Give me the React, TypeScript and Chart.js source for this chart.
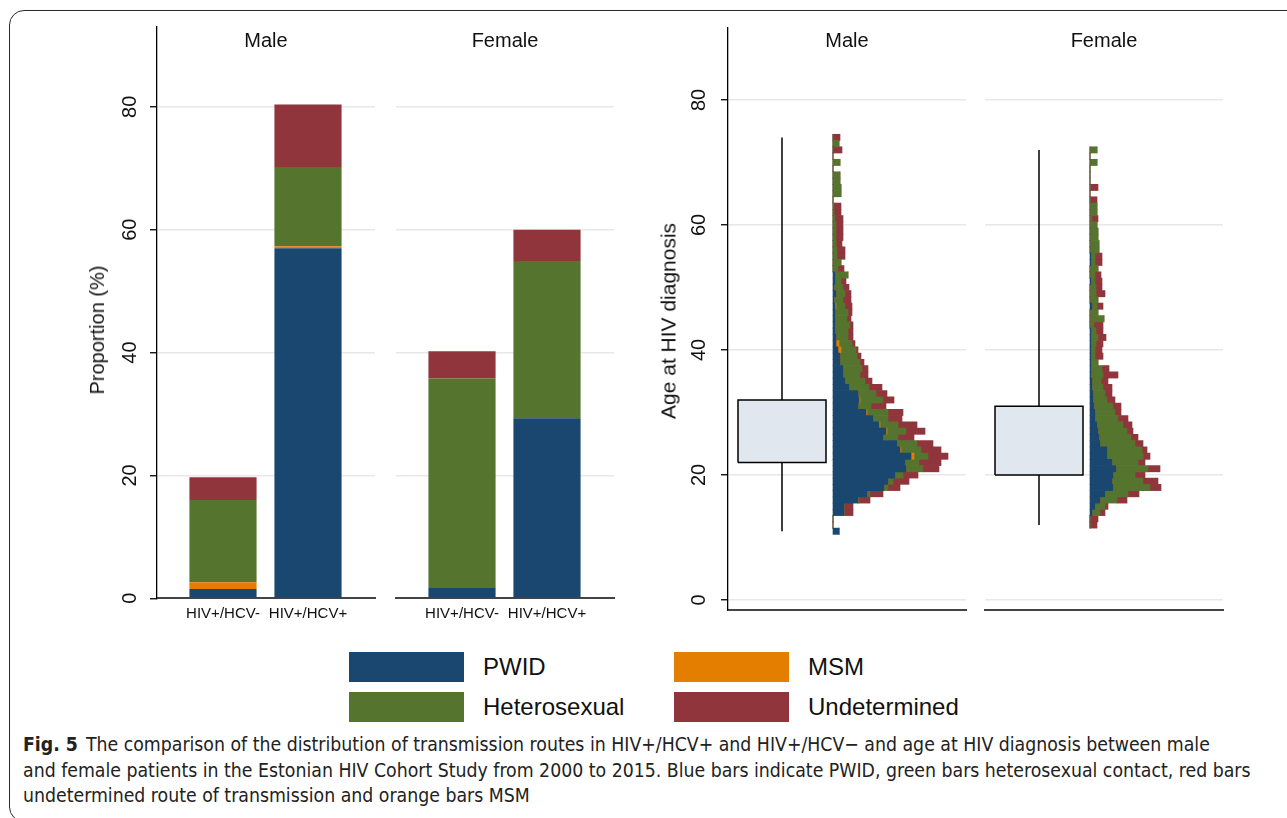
import React, { useEffect, useRef } from "react";
import { Chart, registerables } from "chart.js";

Chart.register(...registerables);

const FONT = "'Liberation Sans', Arial, Helvetica, sans-serif";
const CAPTION_FONT = "'Liberation Sans Narrow', 'DejaVu Sans Condensed', 'Liberation Sans', sans-serif";

// ---------- data ----------
const routeNames = ["PWID", "MSM", "Heterosexual", "Undetermined"];
const routeColors = ["#1a476f", "#e37e00", "#55752f", "#90353b"];

const hcvCategories = ["HIV+/HCV-", "HIV+/HCV+"];
const propMalePWID = [1.5, 57.0];
const propMaleMSM = [1.1, 0.3];
const propMaleHetero = [13.4, 12.9];
const propMaleUndet = [3.7, 10.2];
const propFemalePWID = [1.8, 29.3];
const propFemaleMSM = [0, 0];
const propFemaleHetero = [34.0, 25.6];
const propFemaleUndet = [4.4, 5.1];

const proportionTicks = [0, 20, 40, 60, 80];
const ageTicks = [0, 20, 40, 60, 80];

const sexLabels = ["Male", "Female"];
const ageBoxMin = [11, 12];
const ageBoxQ1 = [22, 20];
const ageBoxMedian = [26, 24];
const ageBoxQ3 = [32, 31];
const ageBoxMax = [74, 72];

const maleAges = [11, 12, 13, 14, 15, 16, 17, 18, 19, 20, 21, 22, 23, 24, 25, 26, 27, 28, 29, 30, 31, 32, 33, 34, 35, 36, 37, 38, 39, 40, 41, 42, 43, 44, 45, 46, 47, 48, 49, 50, 51, 52, 53, 54, 55, 56, 57, 58, 59, 60, 61, 62, 63, 64, 65, 66, 67, 68, 69, 70, 71, 72, 73, 74];
const maleHistPWID = [6, 0, 0, 11, 11, 25, 34, 51, 55, 62, 73, 72, 78, 67, 64, 50, 53, 46, 40, 33, 25, 26, 25, 16, 12, 10, 10, 7, 7, 5, 3, 3, 2, 2, 2, 2, 2, 1, 3, 1, 2, 2, 0, 0, 0, 0, 0, 0, 0, 0, 0, 0, 0, 0, 0, 0, 0, 0, 0, 0, 0, 0, 0, 0];
const maleHistMSM = [0, 0, 0, 0, 0, 0, 0, 0, 0, 0, 0, 0, 3, 1, 0, 0, 1, 1, 0, 1, 0, 1, 0, 0, 0, 0, 0, 0, 0, 3, 3, 0, 0, 0, 0, 0, 1, 0, 0, 0, 0, 0, 0, 0, 0, 0, 0, 0, 0, 0, 0, 0, 0, 0, 0, 0, 0, 0, 0, 0, 0, 0, 0, 0];
const maleHistHetero = [0, 0, 0, 0, 0, 1, 3, 4, 5, 8, 17, 14, 14, 20, 20, 15, 19, 18, 15, 21, 13, 23, 18, 20, 20, 17, 19, 20, 17, 15, 13, 12, 13, 15, 12, 13, 9, 9, 9, 9, 6, 13, 5, 8, 4, 4, 3, 3, 3, 3, 2, 1, 1, 0, 8, 8, 7, 7, 0, 7, 0, 0, 6, 0];
const maleHistUndet = [0, 0, 0, 9, 9, 11, 13, 12, 16, 15, 16, 22, 20, 20, 16, 16, 19, 19, 14, 15, 15, 11, 11, 13, 7, 8, 6, 4, 4, 2, 3, 5, 5, 3, 4, 4, 7, 8, 6, 6, 5, 0, 6, 0, 8, 8, 6, 7, 7, 7, 8, 7, 7, 0, 0, 0, 0, 0, 0, 0, 0, 9, 0, 7];

const femaleAges = [12, 13, 14, 15, 16, 17, 18, 19, 20, 21, 22, 23, 24, 25, 26, 27, 28, 29, 30, 31, 32, 33, 34, 35, 36, 37, 38, 39, 40, 41, 42, 43, 44, 45, 46, 47, 48, 49, 50, 51, 52, 53, 54, 55, 56, 57, 58, 59, 60, 61, 62, 63, 64, 65, 66, 67, 68, 69, 70, 71, 72];
const femaleHistPWID = [0, 0, 2, 5, 10, 15, 23, 22, 23, 26, 22, 17, 17, 10, 9, 8, 7, 5, 5, 4, 3, 3, 2, 2, 1, 1, 1, 1, 1, 1, 1, 1, 0, 0, 0, 2, 0, 0, 0, 1, 0, 0, 1, 1, 0, 0, 0, 0, 0, 0, 0, 0, 0, 0, 0, 0, 0, 0, 0, 0, 0];
const femaleHistMSM = [0, 0, 0, 0, 0, 0, 0, 0, 0, 0, 0, 0, 0, 0, 0, 0, 0, 0, 0, 0, 0, 0, 0, 0, 0, 0, 0, 0, 0, 0, 0, 0, 0, 0, 0, 0, 0, 0, 0, 0, 0, 0, 0, 0, 0, 0, 0, 0, 0, 0, 0, 0, 0, 0, 0, 0, 0, 0, 0, 0, 0];
const femaleHistHetero = [0, 0, 8, 10, 17, 23, 37, 31, 22, 32, 26, 36, 35, 35, 32, 29, 26, 23, 20, 19, 14, 12, 11, 9, 12, 11, 7, 4, 4, 5, 7, 5, 4, 14, 8, 5, 8, 6, 6, 4, 5, 8, 4, 4, 9, 9, 8, 8, 7, 2, 7, 7, 0, 0, 0, 0, 0, 0, 7, 0, 7];
const femaleHistUndet = [7, 8, 5, 3, 10, 11, 11, 15, 10, 12, 7, 7, 5, 8, 7, 6, 9, 10, 6, 8, 8, 7, 9, 7, 15, 7, 0, 8, 7, 7, 8, 7, 9, 0, 0, 6, 0, 9, 6, 7, 6, 0, 7, 7, 0, 0, 0, 0, 0, 6, 0, 0, 7, 0, 8, 0, 0, 0, 0, 0, 0];

const captionLines = [
  "The comparison of the distribution of transmission routes in HIV+/HCV+ and HIV+/HCV\u2212 and age at HIV diagnosis between male",
  "and female patients in the Estonian HIV Cohort Study from 2000 to 2015. Blue bars indicate PWID, green bars heterosexual contact, red bars",
  "undetermined route of transmission and orange bars MSM",
];

// ---------- layout / style ----------
const GRID_COLOR = "#e8e8e8";
const AXIS_DARK = "#444444";
const BOX_FILL = "#e0e7ee";
const BOX_LEFT = -95;
const BOX_RIGHT = -7;
const BOX_CENTER = -51;

type Rect = { left: number; top: number; width: number; height: number };
type Area = { left: number; top: number; right: number; bottom: number };

Chart.defaults.font.family = FONT;
Chart.defaults.color = "#111";

function baseOptions(canvas: Rect, area: Area) {
  return {
    animation: false,
    responsive: false,
    maintainAspectRatio: false,
    events: [],
    layout: {
      padding: {
        top: area.top - canvas.top,
        right: canvas.left + canvas.width - area.right,
        left: 0,
        bottom: 0,
      },
    },
    plugins: { legend: { display: false }, tooltip: { enabled: false }, title: { display: false } },
  };
}

function yAxis(showAxis: boolean, canvas: Rect, area: Area, min: number, max: number, ticksList: number[], hideZeroGrid: boolean, pad: number) {
  return {
    type: "linear",
    min,
    max,
    offset: false,
    afterBuildTicks: (s: any) => {
      s.ticks = ticksList.map((v) => ({ value: v }));
    },
    afterFit: (s: any) => {
      s.width = area.left - canvas.left;
      s.paddingTop = 0;
      s.paddingBottom = 0;
    },
    ticks: {
      display: showAxis,
      minRotation: 90,
      maxRotation: 90,
      crossAlign: "center",
      padding: pad,
      font: { size: 20 },
      color: "#111",
    },
    grid: {
      offset: false,
      drawTicks: showAxis,
      tickLength: 7,
      tickColor: "#000",
      tickWidth: 1.3,
      lineWidth: 1.5,
      color: (ctx: any) => (hideZeroGrid && ctx.tick && ctx.tick.value === 0 ? "rgba(0,0,0,0)" : GRID_COLOR),
    },
    border: { display: showAxis, color: "#000", width: 1.3 },
  };
}

function proportionConfig(values: number[][], showY: boolean, canvas: Rect, area: Area) {
  const unit = 85;
  const min = 1 - 66 / unit;
  const max = min + (area.right - area.left) / unit;
  return {
    type: "bar",
    data: {
      datasets: routeNames.map((name, k) => ({
        label: name,
        data: hcvCategories.map((_, i) => ({ x: i + 1, y: values[k][i] })),
        backgroundColor: routeColors[k],
        borderWidth: 0,
        barPercentage: 0.79,
        categoryPercentage: 1,
        grouped: false,
      })),
    },
    options: {
      ...baseOptions(canvas, area),
      scales: {
        x: {
          type: "linear",
          min,
          max,
          offset: false,
          stacked: true,
          afterBuildTicks: (s: any) => {
            s.ticks = hcvCategories.map((_, i) => ({ value: i + 1 }));
          },
          afterFit: (s: any) => {
            s.height = canvas.top + canvas.height - area.bottom;
            s.paddingLeft = 0;
            s.paddingRight = 0;
          },
          ticks: {
            autoSkip: false,
            maxRotation: 0,
            minRotation: 0,
            padding: 7,
            font: { size: 15 },
            color: "#111",
            callback: (v: any) => hcvCategories[Math.round(v) - 1] ?? "",
          },
          grid: { display: false, drawTicks: false, offset: false },
          border: { display: true, color: AXIS_DARK, width: 2 },
        },
        y: { ...yAxis(showY, canvas, area, 0, 93, proportionTicks, true, 8), stacked: true },
      },
    },
  };
}

function ageConfig(idx: number, ages: number[], series: number[][], showY: boolean, canvas: Rect, area: Area) {
  const xmin = -105;
  const xmax = xmin + (area.right - area.left);
  const bars = series.map((vals, k) => ({
    type: "bar",
    label: routeNames[k],
    data: ages.map((a, i) => ({ x: vals[i], y: a })),
    backgroundColor: routeColors[k],
    borderWidth: 0,
    barPercentage: 1,
    categoryPercentage: 1,
    grouped: false,
    xAxisID: "x",
    yAxisID: "y",
    order: 2,
  }));
  const line = {
    type: "line",
    xAxisID: "xb",
    yAxisID: "y",
    pointRadius: 0,
    borderColor: "#000",
    tension: 0,
    order: 1,
    fill: false,
  };
  const q1 = ageBoxQ1[idx];
  const q3 = ageBoxQ3[idx];
  const boxes = [
    {
      ...line,
      label: "box",
      data: [
        { x: BOX_LEFT, y: q1 },
        { x: BOX_RIGHT, y: q1 },
        { x: BOX_RIGHT, y: q3 },
        { x: BOX_LEFT, y: q3 },
        { x: BOX_LEFT, y: q1 },
      ],
      fill: "shape",
      backgroundColor: BOX_FILL,
      borderWidth: 1.5,
    },
    {
      ...line,
      label: "median",
      data: [
        { x: BOX_LEFT, y: ageBoxMedian[idx] },
        { x: BOX_RIGHT, y: ageBoxMedian[idx] },
      ],
      borderWidth: 2,
    },
    {
      ...line,
      label: "upper whisker",
      data: [
        { x: BOX_CENTER, y: q3 },
        { x: BOX_CENTER, y: ageBoxMax[idx] },
      ],
      borderWidth: 1.5,
    },
    {
      ...line,
      label: "lower whisker",
      data: [
        { x: BOX_CENTER, y: q1 },
        { x: BOX_CENTER, y: ageBoxMin[idx] },
      ],
      borderWidth: 1.5,
    },
  ];
  return {
    type: "bar",
    data: { datasets: [...bars, ...boxes] },
    options: {
      ...baseOptions(canvas, area),
      indexAxis: "y",
      scales: {
        x: {
          type: "linear",
          min: xmin,
          max: xmax,
          offset: false,
          stacked: true,
          afterFit: (s: any) => {
            s.height = canvas.top + canvas.height - area.bottom;
            s.paddingLeft = 0;
            s.paddingRight = 0;
          },
          ticks: { display: false },
          grid: { display: false, drawTicks: false, offset: false },
          border: { display: true, color: AXIS_DARK, width: 2 },
        },
        xb: {
          type: "linear",
          axis: "x",
          display: false,
          min: xmin,
          max: xmax,
          offset: false,
        },
        y: yAxis(showY, canvas, area, -1.6, 91.5, ageTicks, false, 10),
      },
    },
  };
}

function ChartCanvas({ rect, build }: { rect: Rect; build: () => any }) {
  const ref = useRef<HTMLCanvasElement>(null);
  useEffect(() => {
    const chart = new Chart(ref.current as HTMLCanvasElement, build());
    return () => chart.destroy();
  }, []);
  return (
    <canvas
      ref={ref}
      width={rect.width}
      height={rect.height}
      style={{ position: "absolute", left: rect.left, top: rect.top, width: rect.width, height: rect.height }}
    />
  );
}

function Text({ x, y, size, children, rotate }: { x: number; y: number; size: number; children: any; rotate?: boolean }) {
  return (
    <div
      style={{
        position: "absolute",
        left: x,
        top: y,
        transform: rotate ? "translate(-50%,-50%) rotate(-90deg)" : "translate(-50%,-50%)",
        whiteSpace: "nowrap",
        fontSize: size,
        lineHeight: 1,
        color: "#111",
        fontFamily: FONT,
      }}
    >
      {children}
    </div>
  );
}

const leftMaleCanvas: Rect = { left: 60, top: 15, width: 325, height: 630 };
const leftMaleArea: Area = { left: 157, top: 27, right: 375, bottom: 598.3 };
const leftFemaleCanvas: Rect = { left: 385, top: 15, width: 255, height: 630 };
const leftFemaleArea: Area = { left: 396, top: 27, right: 614, bottom: 598.3 };
const rightMaleCanvas: Rect = { left: 640, top: 15, width: 340, height: 610 };
const rightMaleArea: Area = { left: 728, top: 28, right: 966, bottom: 610 };
const rightFemaleCanvas: Rect = { left: 980, top: 15, width: 260, height: 610 };
const rightFemaleArea: Area = { left: 985, top: 28, right: 1223, bottom: 610 };

export default function App() {
  const legendCols = [349, 674];
  const legendRows = [652, 692];
  return (
    <div
      style={{
        position: "absolute",
        left: 0,
        top: 0,
        width: 1287,
        height: 818,
        overflow: "hidden",
        background: "#fff",
        fontFamily: FONT,
      }}
    >
      <div
        style={{
          position: "absolute",
          left: 9,
          top: 10,
          width: 1400,
          height: 812,
          border: "1.3px solid #2a2a2a",
          borderRadius: 15,
          boxSizing: "border-box",
        }}
      />
      <ChartCanvas
        rect={leftMaleCanvas}
        build={() =>
          proportionConfig([propMalePWID, propMaleMSM, propMaleHetero, propMaleUndet], true, leftMaleCanvas, leftMaleArea)
        }
      />
      <ChartCanvas
        rect={leftFemaleCanvas}
        build={() =>
          proportionConfig(
            [propFemalePWID, propFemaleMSM, propFemaleHetero, propFemaleUndet],
            false,
            leftFemaleCanvas,
            leftFemaleArea
          )
        }
      />
      <ChartCanvas
        rect={rightMaleCanvas}
        build={() =>
          ageConfig(0, maleAges, [maleHistPWID, maleHistMSM, maleHistHetero, maleHistUndet], true, rightMaleCanvas, rightMaleArea)
        }
      />
      <ChartCanvas
        rect={rightFemaleCanvas}
        build={() =>
          ageConfig(
            1,
            femaleAges,
            [femaleHistPWID, femaleHistMSM, femaleHistHetero, femaleHistUndet],
            false,
            rightFemaleCanvas,
            rightFemaleArea
          )
        }
      />
      <Text x={266} y={40} size={20}>{sexLabels[0]}</Text>
      <Text x={505} y={40} size={20}>{sexLabels[1]}</Text>
      <Text x={847} y={40} size={20}>{sexLabels[0]}</Text>
      <Text x={1104} y={40} size={20}>{sexLabels[1]}</Text>
      <Text x={97} y={330} size={20} rotate>
        Proportion (%)
      </Text>
      <Text x={668} y={321} size={21} rotate>
        Age at HIV diagnosis
      </Text>
      {routeNames.map((name, k) => {
        const x = legendCols[k % 2];
        const y = legendRows[Math.floor(k / 2)];
        return (
          <React.Fragment key={name}>
            <div
              style={{ position: "absolute", left: x, top: y, width: 115, height: 30, background: routeColors[k] }}
            />
            <div
              style={{
                position: "absolute",
                left: x + 134,
                top: y + 15,
                transform: "translateY(-50%)",
                fontSize: 24,
                lineHeight: 1,
                color: "#111",
                whiteSpace: "nowrap",
              }}
            >
              {name}
            </div>
          </React.Fragment>
        );
      })}
      <div
        style={{
          position: "absolute",
          left: 23,
          top: 732,
          fontFamily: CAPTION_FONT,
          fontSize: 19.3,
          lineHeight: "25.5px",
          color: "#222",
          whiteSpace: "nowrap",
        }}
      >
        {captionLines.map((line, i) => (
          <div key={i}>
            {i === 0 ? <b style={{ fontWeight: 700, marginRight: 8 }}>Fig. 5</b> : null}
            {line}
          </div>
        ))}
      </div>
    </div>
  );
}
